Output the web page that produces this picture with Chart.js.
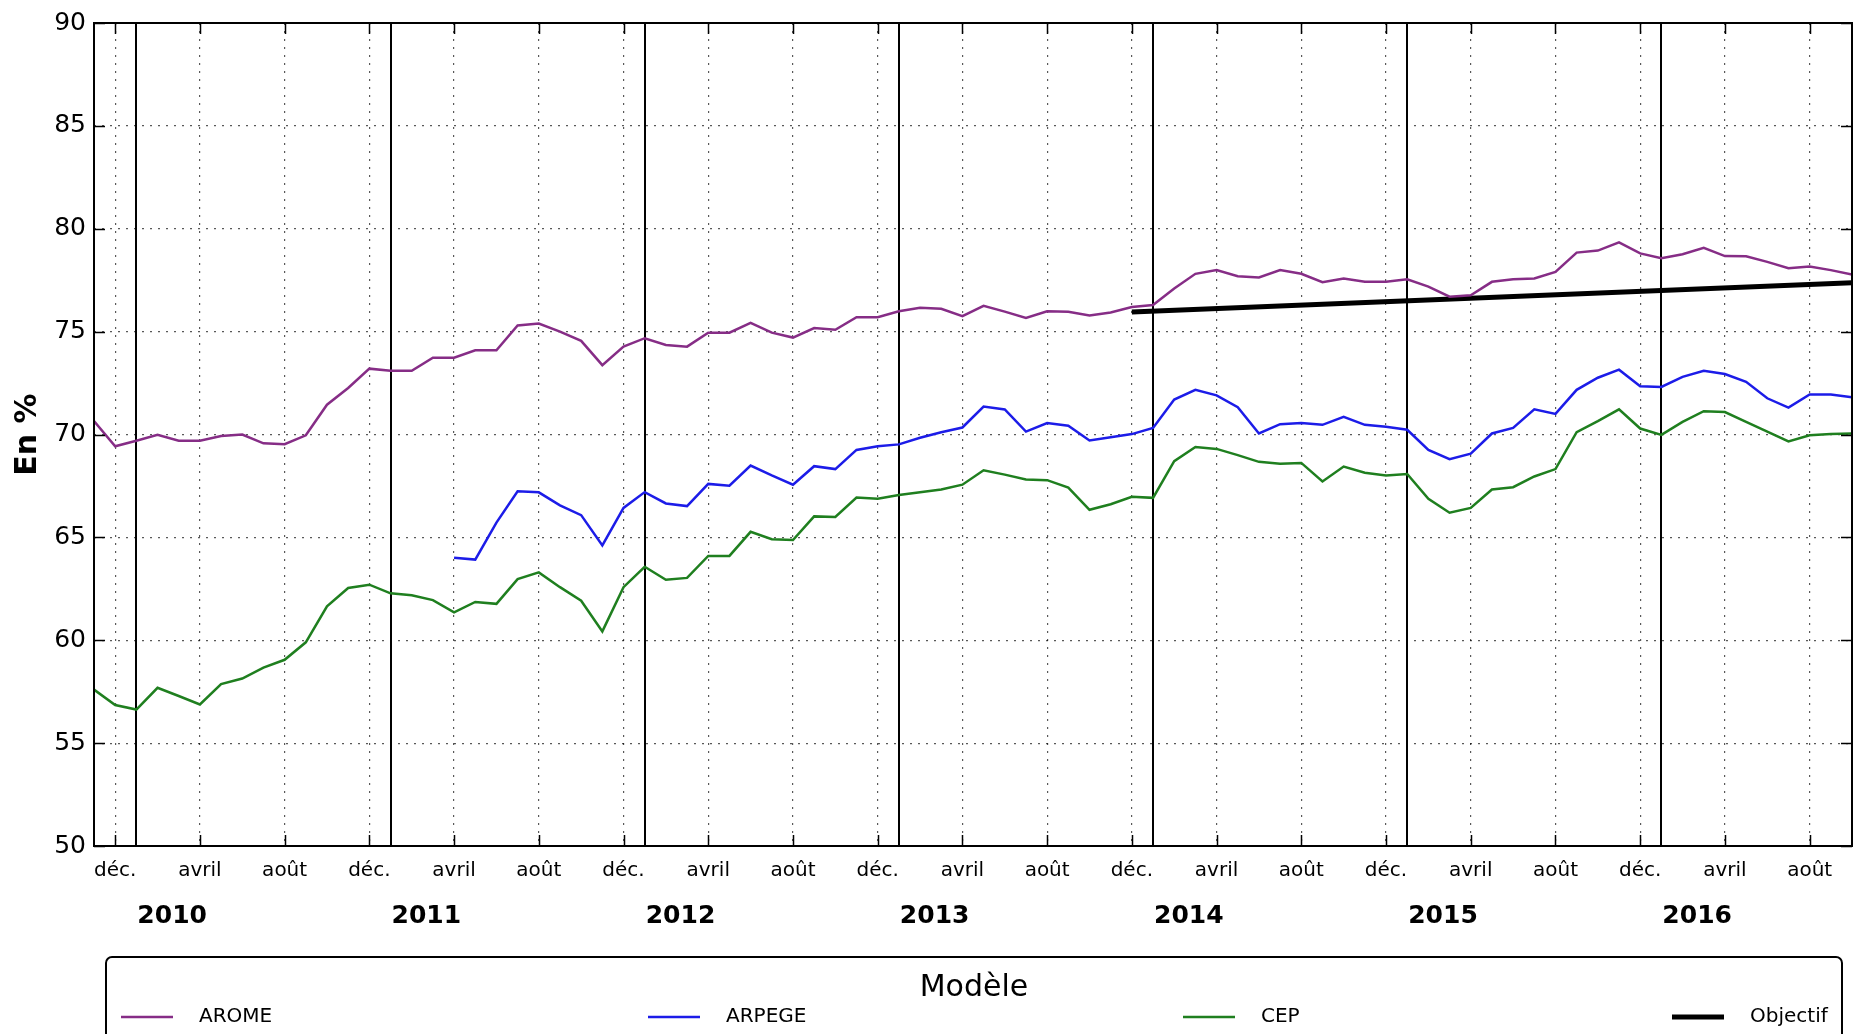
<!DOCTYPE html>
<html><head><meta charset="utf-8">
<script src="https://cdn.jsdelivr.net/npm/chart.js@4.4.1/dist/chart.umd.min.js"></script>
<style>html,body{margin:0;padding:0;background:#fff;}canvas{display:block;}</style>
</head><body>
<canvas id="c" width="1862" height="1034"></canvas>
<script>
// Categories: one per month, November 2009 -> October 2016
const firstYear = 2009, firstMonth = 11, monthCount = 84;
const months = [];
for (let k = 0; k < monthCount; k++) {
  const m = (firstMonth - 1 + k) % 12 + 1, yr = firstYear + Math.floor((firstMonth - 1 + k) / 12);
  months.push(yr + '-' + String(m).padStart(2, '0'));
}
// Tick labels (every 4 months) and year labels
const tickMonthNumbers = [12, 4, 8];
const tickMonthNames = ['déc.', 'avril', 'août'];
const yearLabels = ['2010', '2011', '2012', '2013', '2014', '2015', '2016'];
const yTicks = [50, 55, 60, 65, 70, 75, 80, 85, 90];

// Series values (%)
const arome = [70.65,69.43,69.7,69.98,69.7,69.7,69.93,70.0,69.57,69.53,69.96,71.45,72.26,73.2,73.1,73.1,73.73,73.73,74.09,74.09,
75.3,75.39,75.0,74.55,73.37,74.27,74.68,74.35,74.27,74.95,74.95,75.43,74.95,74.71,75.17,75.09,75.7,75.7,75.99,76.16,
76.11,75.75,76.25,75.97,75.66,75.99,75.97,75.79,75.93,76.2,76.29,77.1,77.81,77.99,77.69,77.63,77.99,77.81,77.4,77.58,
77.42,77.42,77.54,77.19,76.7,76.77,77.42,77.54,77.58,77.9,78.84,78.94,79.34,78.8,78.57,78.76,79.07,78.67,78.66,78.39,
78.08,78.17,77.99,77.78];
const arpege = [null,null,null,null,null,null,null,null,null,null,null,null,null,null,null,null,null,64.01,63.92,65.72,
67.24,67.19,66.56,66.08,64.61,66.43,67.2,66.65,66.52,67.6,67.51,68.49,68.01,67.56,68.46,68.32,69.25,69.43,69.52,69.84,
70.11,70.34,71.36,71.22,70.14,70.56,70.43,69.71,69.87,70.02,70.32,71.7,72.17,71.9,71.33,70.05,70.5,70.56,70.47,70.86,
70.47,70.38,70.23,69.25,68.8,69.07,70.05,70.32,71.22,71.0,72.17,72.76,73.15,72.35,72.31,72.8,73.1,72.94,72.56,71.76,
71.31,71.95,71.94,71.81];
const cep = [57.6,56.85,56.63,57.69,57.29,56.88,57.87,58.14,58.67,59.05,59.9,61.65,62.54,62.7,62.28,62.19,61.95,61.36,61.86,61.77,
62.97,63.3,62.58,61.92,60.43,62.58,63.57,62.94,63.03,64.1,64.1,65.27,64.91,64.87,66.02,65.99,66.94,66.88,67.06,67.19,
67.33,67.56,68.26,68.05,67.81,67.78,67.42,66.34,66.61,66.97,66.92,68.7,69.39,69.3,69.0,68.67,68.58,68.62,67.72,68.44,
68.14,68.01,68.08,66.88,66.2,66.43,67.33,67.44,67.96,68.32,70.11,70.65,71.22,70.29,69.98,70.61,71.13,71.09,70.61,70.14,
69.66,69.96,70.02,70.05];
// Objectif: straight line between two months
const objectifMonths = ['2013-12', '2016-10'];
const objectifValues = [75.95, 77.37];

const monthIndex = months.map((_, i) => i);
const monthOf = k => parseInt(k.slice(5), 10);
const tickIdx = monthIndex.filter(i => tickMonthNumbers.includes(monthOf(months[i])));
const yearStartIdx = monthIndex.filter(i => monthOf(months[i]) === 1);

const FONT = "'DejaVu Sans', sans-serif";

const decor = {
  id: 'decor',
  beforeDatasetsDraw(chart) {
    const {ctx, chartArea: a, scales: {x}} = chart;
    ctx.save();
    ctx.strokeStyle = '#000'; ctx.lineWidth = 2;
    yearStartIdx.forEach(i => {
      const px = Math.round(x.getPixelForValue(i));
      ctx.beginPath(); ctx.moveTo(px, a.top); ctx.lineTo(px, a.bottom); ctx.stroke();
    });
    ctx.restore();
  },
  afterDatasetsDraw(chart) {
    const {ctx, chartArea: a, scales: {x, y}} = chart;
    ctx.save();
    ctx.strokeStyle = '#000'; ctx.lineWidth = 1.5;
    const tl = 11;
    yTicks.forEach(v => {
      const py = Math.round(y.getPixelForValue(v)) + 0.5;
      ctx.beginPath(); ctx.moveTo(a.left, py); ctx.lineTo(a.left + tl, py);
      ctx.moveTo(a.right, py); ctx.lineTo(a.right - tl, py); ctx.stroke();
    });
    tickIdx.forEach(i => {
      const px = Math.round(x.getPixelForValue(i)) + 0.5;
      ctx.beginPath(); ctx.moveTo(px, a.bottom); ctx.lineTo(px, a.bottom - tl);
      ctx.moveTo(px, a.top); ctx.lineTo(px, a.top + tl); ctx.stroke();
    });
    ctx.lineWidth = 2;
    ctx.strokeRect(a.left, a.top, a.right - a.left, a.bottom - a.top);
    ctx.restore();
  },
  afterDraw(chart) {
    const {ctx, chartArea: a, scales: {x}} = chart;
    ctx.save();
    // year labels
    ctx.fillStyle = '#000';
    ctx.font = 'bold 25px ' + FONT;
    ctx.textAlign = 'left'; ctx.textBaseline = 'middle';
    yearStartIdx.forEach((i, k) => {
      if (yearLabels[k]) ctx.fillText(yearLabels[k], x.getPixelForValue(i) + 1, 916);
    });
    // legend box
    ctx.strokeStyle = '#000'; ctx.lineWidth = 2;
    ctx.beginPath();
    ctx.roundRect(106, 957, 1736, 140, 6);
    ctx.stroke();
    ctx.font = '30px ' + FONT; ctx.textAlign = 'center';
    ctx.fillText('Modèle', 974, 988);
    const itemX = [121, 648, 1183, 1672];
    ctx.font = '20px ' + FONT; ctx.textAlign = 'left';
    chart.data.datasets.forEach((ds, k) => {
      const x0 = itemX[k], yy = 1017;
      ctx.strokeStyle = ds.borderColor; ctx.lineWidth = ds.borderWidth;
      ctx.beginPath(); ctx.moveTo(x0, yy); ctx.lineTo(x0 + 52, yy); ctx.stroke();
      ctx.fillStyle = '#000';
      ctx.fillText(ds.label, x0 + 78, yy);
    });
    ctx.restore();
  }
};

new Chart(document.getElementById('c'), {
  type: 'line',
  data: {
    labels: monthIndex,
    datasets: [
      {label: 'AROME', data: arome, borderColor: '#862d86', borderWidth: 2.5},
      {label: 'ARPEGE', data: arpege, borderColor: '#1c1ce8', borderWidth: 2.5},
      {label: 'CEP', data: cep, borderColor: '#1f7f1f', borderWidth: 2.5},
      {label: 'Objectif', data: objectifMonths.map((m, k) => ({x: months.indexOf(m), y: objectifValues[k]})),
       borderColor: '#000', borderWidth: 5}
    ]
  },
  options: {
    responsive: false,
    animation: false,
    devicePixelRatio: 1,
    layout: {padding: {top: 21, right: 10, left: 0, bottom: 0}},
    elements: {point: {radius: 0, hoverRadius: 0}, line: {tension: 0, borderCapStyle: 'butt'}},
    plugins: {legend: {display: false}, tooltip: {enabled: false}},
    scales: {
      x: {
        type: 'linear', min: 0, max: monthCount - 1,
        afterBuildTicks: s => { s.ticks = tickIdx.map(v => ({value: v})); },
        afterFit: s => { s.height = 188; },
        ticks: {
          autoSkip: false, maxRotation: 0, padding: 13, color: '#000',
          font: {family: FONT, size: 20},
          callback: v => tickMonthNames[tickMonthNumbers.indexOf(monthOf(months[v]))]
        },
        grid: {color: 'rgba(0,0,0,0.65)', lineWidth: 1.2, drawTicks: false},
        border: {display: false, dash: [2, 6]}
      },
      y: {
        min: 50, max: 90,
        afterBuildTicks: s => { s.ticks = yTicks.map(v => ({value: v})); },
        afterFit: s => { s.width = 94; },
        ticks: {padding: 8, color: '#000', font: {family: FONT, size: 25}},
        grid: {color: 'rgba(0,0,0,0.65)', lineWidth: 1.2, drawTicks: false},
        border: {display: false, dash: [2, 6]},
        title: {display: true, text: 'En %', color: '#000', padding: {top: 10, bottom: 0},
                font: {family: FONT, size: 30, weight: 'bold'}}
      }
    }
  },
  plugins: [decor]
});
</script>
</body></html>
